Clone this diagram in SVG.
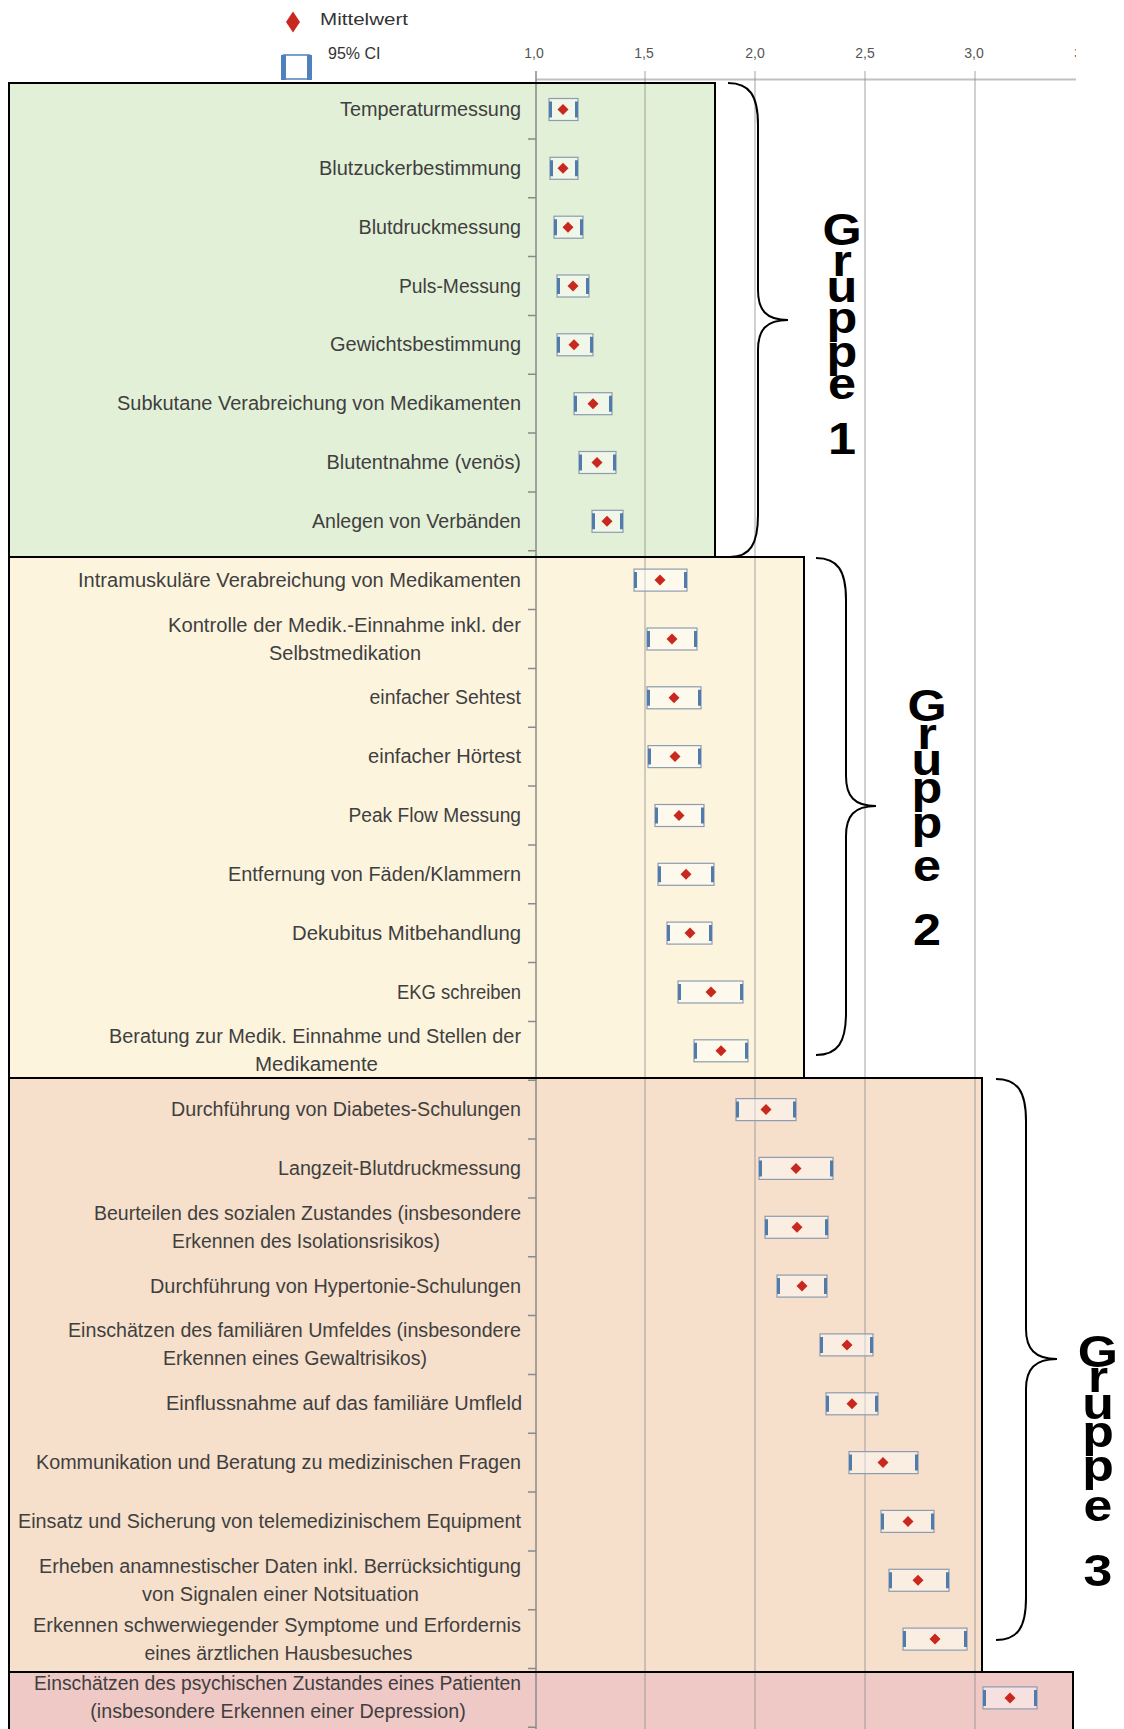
<svg xmlns="http://www.w3.org/2000/svg" width="1124" height="1729" viewBox="0 0 1124 1729">
<style>
.lbl{font-family:"Liberation Sans",Arial,sans-serif;font-size:19.5px;fill:#3f3f3f;text-anchor:end}
.lbc{font-family:"Liberation Sans",Arial,sans-serif;font-size:19.5px;fill:#3f3f3f;text-anchor:middle}
.ax{font-family:"Liberation Sans",Arial,sans-serif;font-size:14px;fill:#555;text-anchor:middle}
.leg{font-family:"Liberation Sans",Arial,sans-serif;font-size:16px;fill:#333}
.grp{font-family:"Liberation Sans",Arial,sans-serif;font-weight:bold;font-size:45px;fill:#000;text-anchor:middle}
.ci{fill:#ffffff;fill-opacity:.45;stroke:#8d9cb0;stroke-width:1.2}
.cap{stroke:#4f7cac;stroke-width:3;fill:none}
.mean{fill:#c8281e}
.frame{fill:none;stroke:#000;stroke-width:2}
.grid{stroke:#8f8f8f;stroke-opacity:.55;stroke-width:1.5}
.brace{fill:none;stroke:#000;stroke-width:2}
</style>
<defs><clipPath id="clipR"><rect x="0" y="0" width="1076" height="100"/></clipPath></defs>
<rect x="0" y="0" width="1124" height="1729" fill="#fff"/>
<g id="fills">
<rect x="9" y="83" width="706" height="474" fill="#e3f0d8"/>
<rect x="9" y="557" width="795" height="521" fill="#fdf4de"/>
<rect x="9" y="1078" width="973" height="594" fill="#f6dfcb"/>
<rect x="9" y="1672" width="1064" height="60" fill="#efc9c6"/>
</g>
<g id="axes">
<line x1="536" y1="79.5" x2="1076" y2="79.5" stroke="#c0c0c0" stroke-width="2"/>
<line class="grid" x1="645" y1="71" x2="645" y2="1729"/>
<line class="grid" x1="755" y1="71" x2="755" y2="1729"/>
<line class="grid" x1="865" y1="71" x2="865" y2="1729"/>
<line class="grid" x1="975" y1="71" x2="975" y2="1729"/>
<line x1="536" y1="71" x2="536" y2="1729" stroke="#8a8a8a" stroke-width="1.5"/>
<path stroke="#8a8a8a" stroke-width="1.5" d="M528,138.9h8M528,197.8h8M528,256.6h8M528,315.4h8M528,374.3h8M528,433.1h8M528,491.9h8M528,550.7h8M528,609.6h8M528,668.4h8M528,727.2h8M528,786.1h8M528,844.9h8M528,903.7h8M528,962.6h8M528,1021.4h8M528,1080.2h8M528,1139h8M528,1197.9h8M528,1256.7h8M528,1315.5h8M528,1374.4h8M528,1433.2h8M528,1492h8M528,1550.9h8M528,1609.7h8M528,1668.5h8M528,1727.3h8"/>
<text class="ax" x="534" y="58">1,0</text>
<text class="ax" x="644" y="58">1,5</text>
<text class="ax" x="755" y="58">2,0</text>
<text class="ax" x="865" y="58">2,5</text>
<text class="ax" x="974" y="58">3,0</text>
<text class="ax" x="1084" y="58" clip-path="url(#clipR)">3,5</text>
</g>
<g id="group-boxes">
<rect id="box-gruppe1" class="frame" x="9" y="83" width="706" height="474"/>
<rect id="box-gruppe2" class="frame" x="9" y="557" width="795" height="521"/>
<rect id="box-gruppe3" class="frame" x="9" y="1078" width="973" height="594"/>
<rect id="box-einzel" class="frame" x="9" y="1672" width="1064" height="60"/>
</g>
<g id="connectors">
<path class="brace" d="M728,83C750,83 758,96 758,125L758,290C758,310 766,320 788,320C766,320 758,330 758,350L758,515C758,544 750,557 730,557"/>
<path class="brace" d="M816,558C838,558 846,571 846,600L846,776C846,796 854,806 876,806C854,806 846,816 846,836L846,1013C846,1042 838,1055 816,1055"/>
<path class="brace" d="M996,1079C1018,1079 1026,1092 1026,1121L1026,1329C1026,1349 1035,1359 1057,1359C1035,1359 1026,1369 1026,1389L1026,1598C1026,1627 1018,1640 996,1640"/>
</g>
<g id="legend">
<path class="mean" d="M293,11.5l7,10.5l-7,10.5l-7,-10.5z"/>
<text class="leg" x="320" y="25" textLength="88" lengthAdjust="spacingAndGlyphs">Mittelwert</text>
<rect x="283.5" y="55" width="26" height="24" fill="none" stroke="#4f81bd" stroke-width="1.5"/>
<rect x="281" y="55" width="5" height="25" fill="#4f81bd"/>
<rect x="307" y="55" width="5" height="25" fill="#4f81bd"/>
<text class="leg" x="328" y="59">95% CI</text>
</g>
<g id="rows">
<g id="r00"><text class="lbl" x="521" y="116" textLength="181" lengthAdjust="spacingAndGlyphs">Temperaturmessung</text><rect class="ci" x="549" y="98.5" width="29" height="22"/><path class="cap" d="M550.5,101.5v16M576.5,101.5v16"/><path class="mean" d="M563,104l5.5,5.5l-5.5,5.5l-5.5,-5.5z"/></g>
<g id="r01"><text class="lbl" x="521" y="174.8" textLength="202" lengthAdjust="spacingAndGlyphs">Blutzuckerbestimmung</text><rect class="ci" x="550" y="157.3" width="28" height="22"/><path class="cap" d="M551.5,160.3v16M576.5,160.3v16"/><path class="mean" d="M563,162.8l5.5,5.5l-5.5,5.5l-5.5,-5.5z"/></g>
<g id="r02"><text class="lbl" x="521" y="233.7" textLength="162.5" lengthAdjust="spacingAndGlyphs">Blutdruckmessung</text><rect class="ci" x="554" y="216.2" width="29" height="22"/><path class="cap" d="M555.5,219.2v16M581.5,219.2v16"/><path class="mean" d="M568,221.7l5.5,5.5l-5.5,5.5l-5.5,-5.5z"/></g>
<g id="r03"><text class="lbl" x="521" y="292.5" textLength="122" lengthAdjust="spacingAndGlyphs">Puls-Messung</text><rect class="ci" x="557" y="275" width="32" height="22"/><path class="cap" d="M558.5,278v16M587.5,278v16"/><path class="mean" d="M573,280.5l5.5,5.5l-5.5,5.5l-5.5,-5.5z"/></g>
<g id="r04"><text class="lbl" x="521" y="351.3" textLength="191" lengthAdjust="spacingAndGlyphs">Gewichtsbestimmung</text><rect class="ci" x="557" y="333.8" width="36" height="22"/><path class="cap" d="M558.5,336.8v16M591.5,336.8v16"/><path class="mean" d="M574,339.3l5.5,5.5l-5.5,5.5l-5.5,-5.5z"/></g>
<g id="r05"><text class="lbl" x="521" y="410.2" textLength="404" lengthAdjust="spacingAndGlyphs">Subkutane Verabreichung von Medikamenten</text><rect class="ci" x="574" y="392.7" width="38" height="22"/><path class="cap" d="M575.5,395.7v16M610.5,395.7v16"/><path class="mean" d="M593,398.2l5.5,5.5l-5.5,5.5l-5.5,-5.5z"/></g>
<g id="r06"><text class="lbl" x="521" y="469" textLength="194.5" lengthAdjust="spacingAndGlyphs">Blutentnahme (venös)</text><rect class="ci" x="579" y="451.5" width="37" height="22"/><path class="cap" d="M580.5,454.5v16M614.5,454.5v16"/><path class="mean" d="M597,457l5.5,5.5l-5.5,5.5l-5.5,-5.5z"/></g>
<g id="r07"><text class="lbl" x="521" y="527.8" textLength="209" lengthAdjust="spacingAndGlyphs">Anlegen von Verbänden</text><rect class="ci" x="592" y="510.3" width="31" height="22"/><path class="cap" d="M593.5,513.3v16M621.5,513.3v16"/><path class="mean" d="M607,515.8l5.5,5.5l-5.5,5.5l-5.5,-5.5z"/></g>
<g id="r08"><text class="lbl" x="521" y="586.6" textLength="443" lengthAdjust="spacingAndGlyphs">Intramuskuläre Verabreichung von Medikamenten</text><rect class="ci" x="634" y="569.1" width="53" height="22"/><path class="cap" d="M635.5,572.1v16M685.5,572.1v16"/><path class="mean" d="M660,574.6l5.5,5.5l-5.5,5.5l-5.5,-5.5z"/></g>
<g id="r09"><text class="lbc" x="344.5" y="631.5" textLength="353" lengthAdjust="spacingAndGlyphs">Kontrolle der Medik.-Einnahme inkl. der</text><text class="lbc" x="345" y="659.5" textLength="152" lengthAdjust="spacingAndGlyphs">Selbstmedikation</text><rect class="ci" x="647" y="628" width="50" height="22"/><path class="cap" d="M648.5,631v16M695.5,631v16"/><path class="mean" d="M672,633.5l5.5,5.5l-5.5,5.5l-5.5,-5.5z"/></g>
<g id="r10"><text class="lbl" x="521" y="704.3" textLength="151.5" lengthAdjust="spacingAndGlyphs">einfacher Sehtest</text><rect class="ci" x="647" y="686.8" width="54" height="22"/><path class="cap" d="M648.5,689.8v16M699.5,689.8v16"/><path class="mean" d="M674,692.3l5.5,5.5l-5.5,5.5l-5.5,-5.5z"/></g>
<g id="r11"><text class="lbl" x="521" y="763.1" textLength="153" lengthAdjust="spacingAndGlyphs">einfacher Hörtest</text><rect class="ci" x="648" y="745.6" width="53" height="22"/><path class="cap" d="M649.5,748.6v16M699.5,748.6v16"/><path class="mean" d="M675,751.1l5.5,5.5l-5.5,5.5l-5.5,-5.5z"/></g>
<g id="r12"><text class="lbl" x="521" y="822" textLength="172.5" lengthAdjust="spacingAndGlyphs">Peak Flow Messung</text><rect class="ci" x="655" y="804.5" width="49" height="22"/><path class="cap" d="M656.5,807.5v16M702.5,807.5v16"/><path class="mean" d="M679,810l5.5,5.5l-5.5,5.5l-5.5,-5.5z"/></g>
<g id="r13"><text class="lbl" x="521" y="880.8" textLength="293" lengthAdjust="spacingAndGlyphs">Entfernung von Fäden/Klammern</text><rect class="ci" x="658" y="863.3" width="56" height="22"/><path class="cap" d="M659.5,866.3v16M712.5,866.3v16"/><path class="mean" d="M686,868.8l5.5,5.5l-5.5,5.5l-5.5,-5.5z"/></g>
<g id="r14"><text class="lbl" x="521" y="939.6" textLength="229" lengthAdjust="spacingAndGlyphs">Dekubitus Mitbehandlung</text><rect class="ci" x="667" y="922.1" width="45" height="22"/><path class="cap" d="M668.5,925.1v16M710.5,925.1v16"/><path class="mean" d="M690,927.6l5.5,5.5l-5.5,5.5l-5.5,-5.5z"/></g>
<g id="r15"><text class="lbl" x="521" y="998.5" textLength="124" lengthAdjust="spacingAndGlyphs">EKG schreiben</text><rect class="ci" x="678" y="981" width="65" height="22"/><path class="cap" d="M679.5,984v16M741.5,984v16"/><path class="mean" d="M711,986.5l5.5,5.5l-5.5,5.5l-5.5,-5.5z"/></g>
<g id="r16"><text class="lbc" x="315" y="1043.3" textLength="412" lengthAdjust="spacingAndGlyphs">Beratung zur Medik. Einnahme und Stellen der</text><text class="lbc" x="316.5" y="1071.3" textLength="123" lengthAdjust="spacingAndGlyphs">Medikamente</text><rect class="ci" x="694" y="1039.8" width="54" height="22"/><path class="cap" d="M695.5,1042.8v16M746.5,1042.8v16"/><path class="mean" d="M721,1045.3l5.5,5.5l-5.5,5.5l-5.5,-5.5z"/></g>
<g id="r17"><text class="lbl" x="521" y="1116.1" textLength="350" lengthAdjust="spacingAndGlyphs">Durchführung von Diabetes-Schulungen</text><rect class="ci" x="736" y="1098.6" width="60" height="22"/><path class="cap" d="M737.5,1101.6v16M794.5,1101.6v16"/><path class="mean" d="M766,1104.1l5.5,5.5l-5.5,5.5l-5.5,-5.5z"/></g>
<g id="r18"><text class="lbl" x="521" y="1174.9" textLength="243" lengthAdjust="spacingAndGlyphs">Langzeit-Blutdruckmessung</text><rect class="ci" x="759" y="1157.4" width="74" height="22"/><path class="cap" d="M760.5,1160.4v16M831.5,1160.4v16"/><path class="mean" d="M796,1162.9l5.5,5.5l-5.5,5.5l-5.5,-5.5z"/></g>
<g id="r19"><text class="lbc" x="307.5" y="1219.8" textLength="427" lengthAdjust="spacingAndGlyphs">Beurteilen des sozialen Zustandes (insbesondere</text><text class="lbc" x="306" y="1247.8" textLength="268" lengthAdjust="spacingAndGlyphs">Erkennen des Isolationsrisikos)</text><rect class="ci" x="765" y="1216.3" width="63" height="22"/><path class="cap" d="M766.5,1219.3v16M826.5,1219.3v16"/><path class="mean" d="M797,1221.8l5.5,5.5l-5.5,5.5l-5.5,-5.5z"/></g>
<g id="r20"><text class="lbl" x="521" y="1292.6" textLength="371" lengthAdjust="spacingAndGlyphs">Durchführung von Hypertonie-Schulungen</text><rect class="ci" x="777" y="1275.1" width="50" height="22"/><path class="cap" d="M778.5,1278.1v16M825.5,1278.1v16"/><path class="mean" d="M802,1280.6l5.5,5.5l-5.5,5.5l-5.5,-5.5z"/></g>
<g id="r21"><text class="lbc" x="294.5" y="1337.4" textLength="453" lengthAdjust="spacingAndGlyphs">Einschätzen des familiären Umfeldes (insbesondere</text><text class="lbc" x="295" y="1365.4" textLength="264" lengthAdjust="spacingAndGlyphs">Erkennen eines Gewaltrisikos)</text><rect class="ci" x="820" y="1333.9" width="53" height="22"/><path class="cap" d="M821.5,1336.9v16M871.5,1336.9v16"/><path class="mean" d="M847,1339.4l5.5,5.5l-5.5,5.5l-5.5,-5.5z"/></g>
<g id="r22"><text class="lbl" x="522" y="1410.3" textLength="356" lengthAdjust="spacingAndGlyphs">Einflussnahme auf das familiäre Umfleld</text><rect class="ci" x="826" y="1392.8" width="52" height="22"/><path class="cap" d="M827.5,1395.8v16M876.5,1395.8v16"/><path class="mean" d="M852,1398.3l5.5,5.5l-5.5,5.5l-5.5,-5.5z"/></g>
<g id="r23"><text class="lbl" x="521" y="1469.1" textLength="485" lengthAdjust="spacingAndGlyphs">Kommunikation und Beratung zu medizinischen Fragen</text><rect class="ci" x="849" y="1451.6" width="69" height="22"/><path class="cap" d="M850.5,1454.6v16M916.5,1454.6v16"/><path class="mean" d="M883,1457.1l5.5,5.5l-5.5,5.5l-5.5,-5.5z"/></g>
<g id="r24"><text class="lbl" x="521" y="1527.9" textLength="503" lengthAdjust="spacingAndGlyphs">Einsatz und Sicherung von telemedizinischem Equipment</text><rect class="ci" x="881" y="1510.4" width="53" height="22"/><path class="cap" d="M882.5,1513.4v16M932.5,1513.4v16"/><path class="mean" d="M908,1515.9l5.5,5.5l-5.5,5.5l-5.5,-5.5z"/></g>
<g id="r25"><text class="lbc" x="280" y="1572.8" textLength="482" lengthAdjust="spacingAndGlyphs">Erheben anamnestischer Daten inkl. Berrücksichtigung</text><text class="lbc" x="280.5" y="1600.8" textLength="277" lengthAdjust="spacingAndGlyphs">von Signalen einer Notsituation</text><rect class="ci" x="889" y="1569.3" width="60" height="22"/><path class="cap" d="M890.5,1572.3v16M947.5,1572.3v16"/><path class="mean" d="M918,1574.8l5.5,5.5l-5.5,5.5l-5.5,-5.5z"/></g>
<g id="r26"><text class="lbc" x="277" y="1631.6" textLength="488" lengthAdjust="spacingAndGlyphs">Erkennen schwerwiegender Symptome und Erfordernis</text><text class="lbc" x="278.5" y="1659.6" textLength="268" lengthAdjust="spacingAndGlyphs">eines ärztlichen Hausbesuches</text><rect class="ci" x="903" y="1628.1" width="64" height="22"/><path class="cap" d="M904.5,1631.1v16M965.5,1631.1v16"/><path class="mean" d="M935,1633.6l5.5,5.5l-5.5,5.5l-5.5,-5.5z"/></g>
<g id="r27"><text class="lbc" x="277.5" y="1690.4" textLength="487" lengthAdjust="spacingAndGlyphs">Einschätzen des psychischen Zustandes eines Patienten</text><text class="lbc" x="278" y="1718.4" textLength="375.5" lengthAdjust="spacingAndGlyphs">(insbesondere Erkennen einer Depression)</text><rect class="ci" x="983" y="1686.9" width="54" height="22"/><path class="cap" d="M984.5,1689.9v16M1035.5,1689.9v16"/><path class="mean" d="M1010,1692.4l5.5,5.5l-5.5,5.5l-5.5,-5.5z"/></g>
</g>
<g id="gruppe1-label" class="grp" transform="translate(842,0) scale(1.12,1)">
<text x="0" y="245">G</text><text x="0" y="276">r</text><text x="0" y="302">u</text><text x="0" y="333">p</text><text x="0" y="367">p</text><text x="0" y="399">e</text><text x="0" y="454">1</text>
</g>
<g id="gruppe2-label" class="grp" transform="translate(927,0) scale(1.12,1)">
<text x="0" y="721">G</text><text x="0" y="749">r</text><text x="0" y="775">u</text><text x="0" y="803">p</text><text x="0" y="838">p</text><text x="0" y="881">e</text><text x="0" y="945">2</text>
</g>
<g id="gruppe3-label" class="grp" transform="translate(1098,0) scale(1.15,1)">
<text x="0" y="1367">G</text><text x="0" y="1392">r</text><text x="0" y="1419">u</text><text x="0" y="1447">p</text><text x="0" y="1481">p</text><text x="0" y="1521">e</text><text x="0" y="1586">3</text>
</g>
</svg>
